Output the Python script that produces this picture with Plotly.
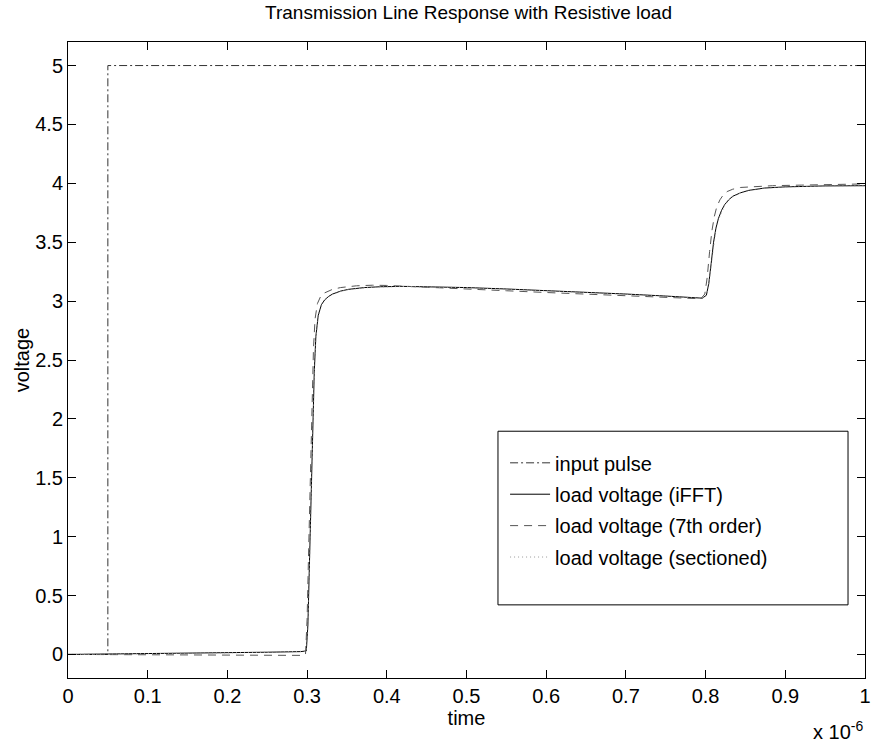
import plotly.graph_objects as go

# time in units of 1e-6 s
t_input = [0.0, 0.05, 0.05, 1.0]
v_input = [0.0, 0.0, 5.0, 5.0]

t_ifft = [0, 0.05, 0.1, 0.15, 0.2, 0.25, 0.292, 0.299, 0.301, 0.303, 0.305, 0.307, 0.309,
          0.311, 0.314, 0.318, 0.322, 0.327, 0.332, 0.342, 0.352, 0.372, 0.392, 0.42, 0.45, 0.5,
          0.55, 0.6, 0.65, 0.7, 0.75, 0.783, 0.796, 0.801, 0.804, 0.807, 0.810, 0.813, 0.816,
          0.820, 0.824, 0.829, 0.834, 0.844, 0.854, 0.874, 0.9, 0.95, 1.0]
v_ifft = [0, 0.003, 0.007, 0.011, 0.015, 0.019, 0.024, 0.03, 0.25, 0.8, 1.4, 1.95, 2.4,
          2.7, 2.88, 2.97, 3.01, 3.04, 3.06, 3.085, 3.10, 3.115, 3.122, 3.125, 3.123, 3.115,
          3.103, 3.09, 3.075, 3.06, 3.043, 3.03, 3.025, 3.05, 3.15, 3.32, 3.5, 3.62, 3.7,
          3.77, 3.82, 3.86, 3.89, 3.92, 3.94, 3.96, 3.97, 3.978, 3.98]

t_7th = [0, 0.05, 0.1, 0.15, 0.2, 0.25, 0.292, 0.298, 0.300, 0.302, 0.304, 0.306, 0.308,
         0.310, 0.313, 0.317, 0.322, 0.332, 0.342, 0.362, 0.382, 0.4, 0.43, 0.47, 0.5, 0.55,
         0.6, 0.65, 0.7, 0.75, 0.783, 0.794, 0.799, 0.802, 0.805, 0.808, 0.811, 0.814, 0.818,
         0.822, 0.827, 0.834, 0.844, 0.864, 0.884, 0.92, 0.96, 1.0]
v_7th = [0, -0.002, -0.004, -0.006, -0.008, -0.009, -0.008, 0.0, 0.3, 0.9, 1.55, 2.15, 2.6,
         2.85, 2.98, 3.04, 3.07, 3.1, 3.115, 3.13, 3.135, 3.133, 3.125, 3.112, 3.103, 3.088,
         3.073, 3.058, 3.045, 3.03, 3.02, 3.02, 3.06, 3.2, 3.42, 3.6, 3.72, 3.8, 3.86,
         3.9, 3.93, 3.95, 3.965, 3.975, 3.98, 3.985, 3.99, 3.995]

t_sect = [0, 0.05, 0.1, 0.15, 0.2, 0.25, 0.292, 0.299, 0.301, 0.303, 0.305, 0.307, 0.309,
          0.311, 0.314, 0.318, 0.322, 0.327, 0.332, 0.342, 0.352, 0.372, 0.392, 0.42, 0.45, 0.5,
          0.55, 0.6, 0.65, 0.7, 0.75, 0.783, 0.796, 0.801, 0.804, 0.807, 0.810, 0.813, 0.816,
          0.820, 0.824, 0.829, 0.834, 0.844, 0.854, 0.874, 0.9, 0.95, 1.0]
v_sect = [0, 0.002, 0.006, 0.010, 0.014, 0.018, 0.023, 0.028, 0.22, 0.75, 1.35, 1.9, 2.36,
          2.68, 2.87, 2.96, 3.005, 3.035, 3.057, 3.083, 3.098, 3.113, 3.121, 3.124, 3.122, 3.114,
          3.102, 3.089, 3.074, 3.059, 3.042, 3.03, 3.024, 3.045, 3.14, 3.3, 3.48, 3.61, 3.69,
          3.76, 3.815, 3.855, 3.885, 3.918, 3.938, 3.958, 3.969, 3.977, 3.98]

x_ticks = [0, 0.1, 0.2, 0.3, 0.4, 0.5, 0.6, 0.7, 0.8, 0.9, 1.0]
x_tick_labels = ["0", "0.1", "0.2", "0.3", "0.4", "0.5", "0.6", "0.7", "0.8", "0.9", "1"]
y_ticks = [0, 0.5, 1, 1.5, 2, 2.5, 3, 3.5, 4, 4.5, 5]
y_tick_labels = ["0", "0.5", "1", "1.5", "2", "2.5", "3", "3.5", "4", "4.5", "5"]

FONT = "Liberation Sans, Arial, Helvetica, sans-serif"
FS = 20

fig = go.Figure()
fig.add_trace(go.Scatter(x=t_input, y=v_input, mode="lines", name="input pulse",
                         legendgroup="a",
                         line=dict(color="#333333", width=1, dash="8px,3px,2px,3px")))
fig.add_trace(go.Scatter(x=t_ifft, y=v_ifft, mode="lines", name="load voltage (iFFT)",
                         legendgroup="b",
                         line=dict(color="black", width=1)))
fig.add_trace(go.Scatter(x=t_7th, y=v_7th, mode="lines", name="load voltage (7th order)",
                         legendgroup="c",
                         line=dict(color="#555555", width=1, dash="8px,6px")))
fig.add_trace(go.Scatter(x=t_sect, y=v_sect, mode="lines", name="load voltage (sectioned)",
                         legendgroup="d",
                         line=dict(color="#999999", width=1, dash="1px,3px")))

axis_common = dict(showline=True, linecolor="black", linewidth=1, mirror="ticks",
                   ticks="inside", ticklen=8, tickcolor="black", tickwidth=1,
                   showgrid=False, zeroline=False, automargin=False,
                   tickfont=dict(family=FONT, size=FS, color="black"))

fig.update_xaxes(range=[0, 1], tickmode="array", tickvals=x_ticks, ticktext=x_tick_labels,
                 ticklabeloverflow="allow",
                 title=dict(text="time", font=dict(family=FONT, size=FS, color="black"),
                            standoff=0),
                 **axis_common)
fig.update_yaxes(range=[-0.2, 5.2], tickmode="array", tickvals=y_ticks, ticktext=y_tick_labels,
                 title=dict(text="voltage", font=dict(family=FONT, size=FS, color="black"),
                            standoff=0),
                 ticklabelstandoff=0,
                 **axis_common)

fig.update_layout(
    width=871, height=743,
    margin=dict(l=68, r=6, t=42, b=65),
    paper_bgcolor="white", plot_bgcolor="white",
    title=dict(text="Transmission Line Response with Resistive load",
               font=dict(family=FONT, size=19, color="black"),
               x=0.5379, xanchor="center", y=0.983, yanchor="middle"),
    showlegend=True,
    legend=dict(x=0.5484, xanchor="left", y=0.369, yanchor="top",
                bgcolor="rgba(0,0,0,0)", borderwidth=0, itemwidth=40,
                font=dict(family=FONT, size=FS, color="black"),
                tracegroupgap=2.4),
    shapes=[dict(type="rect", xref="paper", yref="paper",
                 x0=0.5395, x1=0.9787, y0=0.115, y1=0.388,
                 line=dict(color="black", width=1), fillcolor="white", layer="below")],
    annotations=[dict(text="x 10<sup>-6</sup>", xref="paper", yref="paper",
                      x=1.0, y=-0.0818, xanchor="right", yanchor="middle", showarrow=False,
                      font=dict(family=FONT, size=FS, color="black"))],
)

fig.write_html("out.html", config={"displayModeBar": False},
               post_script="document.body.style.margin='0px';")
